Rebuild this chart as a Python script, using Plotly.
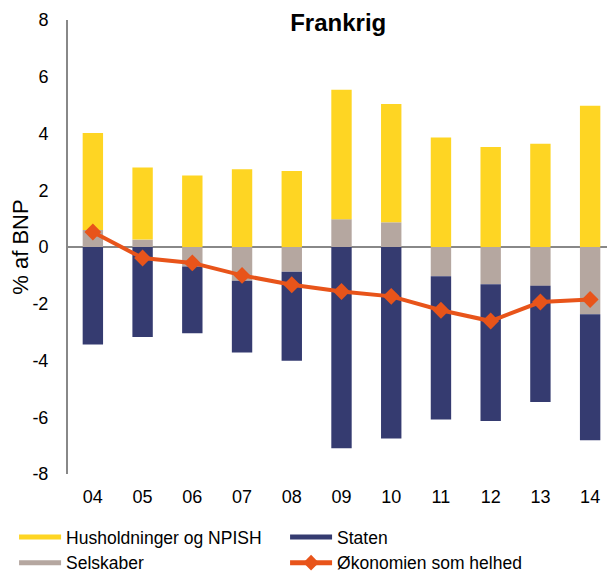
import plotly.graph_objects as go

years = ["04", "05", "06", "07", "08", "09", "10", "11", "12", "13", "14"]
husholdninger = [3.42, 2.54, 2.52, 2.74, 2.68, 4.56, 4.17, 3.86, 3.52, 3.64, 4.98]
selskaber = [0.60, 0.26, -0.69, -1.19, -0.87, 0.98, 0.87, -1.03, -1.31, -1.37, -2.37]
staten = [-3.44, -3.17, -2.35, -2.53, -3.14, -7.09, -6.75, -5.05, -4.82, -4.09, -4.44]
oekonomien = [0.53, -0.39, -0.56, -1.00, -1.33, -1.57, -1.74, -2.23, -2.61, -1.94, -1.85]
yticks = [-8, -6, -4, -2, 0, 2, 4, 6, 8]
yticklabels = ["-8", "-6", "-4", "-2", "0", "2", "4", "6", "8"]

c_yellow = "#FED523"
c_gray = "#B5A7A0"
c_navy = "#353B70"
c_orange = "#E8541A"
font = "Liberation Sans, Arial, sans-serif"

fig = go.Figure()
fig.add_trace(go.Bar(x=years, y=selskaber, marker_color=c_gray, width=0.41,
                     marker_line_width=0, showlegend=False, name="Selskaber"))
fig.add_trace(go.Bar(x=years, y=husholdninger, marker_color=c_yellow, width=0.41,
                     marker_line_width=0, showlegend=False, name="Husholdninger og NPISH"))
fig.add_trace(go.Bar(x=years, y=staten, marker_color=c_navy, width=0.41,
                     marker_line_width=0, showlegend=False, name="Staten"))
fig.add_trace(go.Scatter(x=years, y=oekonomien, mode="lines+markers",
                         line=dict(color=c_orange, width=4),
                         marker=dict(symbol="diamond", size=13, color=c_orange),
                         showlegend=False, name="Økonomien som helhed"))

# legend entries
for name, col, rank in [("Husholdninger og NPISH", c_yellow, 1), ("Staten", c_navy, 2),
                        ("Selskaber", c_gray, 3)]:
    fig.add_trace(go.Scatter(x=[None], y=[None], mode="lines", name=name,
                             line=dict(color=col, width=10), legendrank=rank))
fig.add_trace(go.Scatter(x=[None], y=[None], mode="lines+markers", name="Økonomien som helhed",
                         line=dict(color=c_orange, width=4),
                         marker=dict(symbol="diamond", size=11, color=c_orange), legendrank=4))

fig.update_layout(
    barmode="relative",
    width=607, height=570,
    margin=dict(l=60, r=0, t=12, b=104),
    plot_bgcolor="white", paper_bgcolor="white",
    font=dict(family=font, size=18, color="black"),
    title=dict(text="<b>Frankrig</b>", x=0.544, xref="container", y=0.975, yref="container",
               xanchor="center", yanchor="middle", font=dict(size=24)),
    legend=dict(orientation="h", xref="container", yref="container", x=0.01, y=0.1035,
                xanchor="left", yanchor="top", itemwidth=42, entrywidth=214,
                entrywidthmode="pixels", tracegroupgap=0, font=dict(size=17.5),
                itemsizing="constant"),
    xaxis=dict(type="category", range=[-0.5, 10.5], showline=False, showgrid=False,
               zeroline=False, ticks="outside", ticklen=6, tickcolor="rgba(0,0,0,0)",
               automargin=False),
    yaxis=dict(range=[-8, 8], tickvals=yticks, ticktext=yticklabels, showgrid=False,
               showline=True, automargin=False,
               linecolor="#888888", linewidth=2, zeroline=True, zerolinecolor="#888888",
               zerolinewidth=2, ticks="outside", ticklen=14, tickcolor="rgba(0,0,0,0)",
               title=dict(text="% af BNP", standoff=8)),
)

fig.write_html("out.html")
